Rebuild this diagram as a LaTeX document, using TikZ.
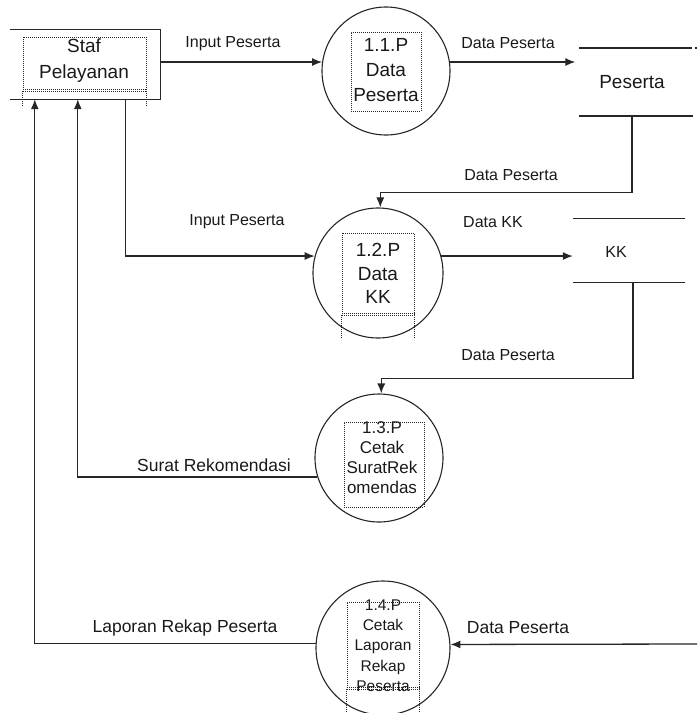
\documentclass[tikz,border=0pt]{standalone}
\usepackage{fontspec}
\setmainfont{Liberation Sans}
\usetikzlibrary{arrows.meta}

\begin{document}
\begin{tikzpicture}[x=1pt,y=-1pt,
  every node/.style={inner sep=0pt,text=black!90},
  line/.style={draw=black!85,line width=1.3pt},
  flow/.style={line,-{Latex[length=10pt,width=8pt]}},
  proc/.style={circle,draw=black!85,line width=1.1pt,minimum size=#1},
  dots/.style={draw=black!85,dash pattern=on 1pt off 1pt,line width=0.9pt},
  big/.style={font=\fontsize{19}{25}\selectfont,align=center},
  lbl/.style={font=\fontsize{16}{19}\selectfont}]
\useasboundingbox (0,0) rectangle (697,713);
\node[minimum width=150pt,minimum height=69pt] (staf) at (85,64.5) {};
\draw[line] (staf.north west) -- (staf.north east) -- (staf.south east) -- (staf.south west);
\node[dots,minimum width=123pt,minimum height=54pt] (stafin) at (84.5,64) {};
\draw[dots] ([yshift=2pt]stafin.south west) -- ([yshift=2pt]stafin.south east);
\draw[dots] (stafin.south west) -- ++(0,16);
\draw[dots] (stafin.south east) -- ++(0,16);
\node[big,font=\fontsize{19}{26}\selectfont] (staft) at (84,61) {Staf\\Pelayanan};
\node[proc=128pt] (p11) at (386,71) {};
\node[dots,minimum width=70pt,minimum height=79pt] (p11in) at (386,71.5) {};
\node[big] (p11t) at (386,70) {1.1.P\\Data\\Peserta};
\node[proc=130pt] (p12) at (378,273) {};
\node[dots,minimum width=72pt,minimum height=82pt] (p12in) at (378,274) {};
\draw[dots] ([yshift=2pt]p12in.south west) -- ([yshift=2pt]p12in.south east);
\draw[dots] (p12in.south west) -- ++(0,23);
\draw[dots] (p12in.south east) -- ++(0,23);
\node[big,font=\fontsize{19}{23.5}\selectfont] (p12t) at (378,273.5) {1.2.P\\Data\\KK};
\node[proc=128pt] (p13) at (379,458) {};
\node[dots,minimum width=80pt,minimum height=85pt] (p13in) at (384,464.5) {};
\node[big,font=\fontsize{17}{20}\selectfont] (p13t) at (382,457.5) {1.3.P\\Cetak\\SuratRek\\omendas};
\node[proc=134pt] (p14) at (383,648) {};
\node[dots,minimum width=72pt,minimum height=87pt] (p14in) at (383,645.5) {};
\draw[dots] ([yshift=2pt]p14in.south west) -- ([yshift=2pt]p14in.south east);
\draw[dots] (p14in.south west) -- ++(0,24);
\draw[dots] (p14in.south east) -- ++(0,24);
\node[big,font=\fontsize{15.5}{20.3}\selectfont] (p14t) at (383,645.5) {1.4.P\\Cetak\\Laporan\\Rekap\\Peserta};
\node[minimum width=113pt,minimum height=68pt,font=\fontsize{19}{23}\selectfont] (sp) at (632,82) {Peserta};
\draw[line] (579,48) -- (692,48);
\draw[line] (694.5,48) -- (697,48);
\draw[line] (579,116) -- (693,116);
\node[minimum width=112pt,minimum height=63pt] (kk) at (629,250.5) {};
\node[lbl] (kkt) at (616,252) {KK};
\draw[line] (kk.north west) -- (kk.north east);
\draw[line] (kk.south west) -- (kk.south east);
\coordinate (dpin) at (697,644);
\draw[flow] (staf.east |- p11.172) -- (p11.172);
\node[lbl] (l1) at (233,44) {Input Peserta};
\draw[flow] (p11.8) -- (sp.west |- p11.8);
\node[lbl] (l2) at (508,43) {Data Peserta};
\draw[flow] (sp.south) -- ++(0,76) -| (p12.88);
\node[lbl] (l3) at (511,175) {Data Peserta};
\draw[flow] ([xshift=-35pt]staf.south east) |- (p12.165);
\node[lbl] (l4) at (237,222) {Input Peserta};
\draw[flow] (p12.15) -- (kk.west |- p12.15);
\node[lbl] (l5) at (493,222) {Data KK};
\draw[flow] ([xshift=4pt]kk.south) -- ++(0,96) -| (p13.88);
\node[lbl] (l6) at (508,355) {Data Peserta};
\draw[flow] (p13.197) -| ([xshift=68pt]staf.south west);
\node[lbl,font=\fontsize{17.5}{20}\selectfont] (l7) at (214,465) {Surat Rekomendasi};
\draw[flow] (p14.176) -| ([xshift=25pt]staf.south west);
\node[lbl,font=\fontsize{17.5}{20}\selectfont] (l8) at (185,628) {Laporan Rekap Peserta};
\draw[flow] (dpin) -- (p14.3);
\node[lbl,font=\fontsize{17.5}{20}\selectfont] (l9) at (518,628) {Data Peserta};
\end{tikzpicture}
\end{document}
